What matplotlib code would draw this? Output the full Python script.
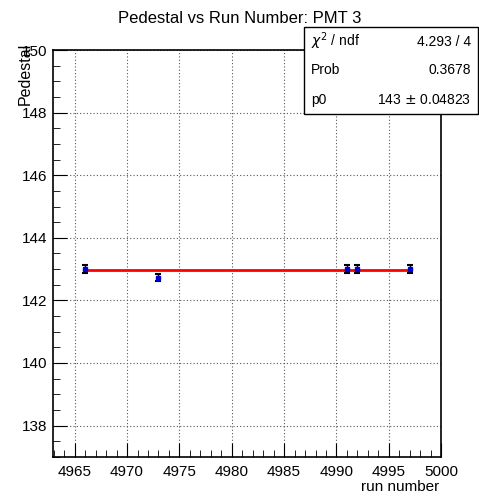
import matplotlib
matplotlib.use("Agg")
import matplotlib.pyplot as plt
from matplotlib.ticker import MultipleLocator

plt.rcParams['font.family'] = ['Liberation Sans', 'DejaVu Sans']

# data
runs = [4966, 4973, 4991, 4992, 4997]
pedestal = [143.0, 142.73, 143.0, 143.0, 143.0]
errors = [0.12, 0.12, 0.12, 0.12, 0.12]
fit_p0 = 142.96
fit_range = [4966, 4997]
stat_names = ["$\\chi^2$ / ndf", "Prob", "p0"]
stat_values = ["4.293 / 4", "0.3678", "143 $\\pm$ 0.04823"]

fig = plt.figure(figsize=(4.79, 4.96), dpi=100)
ax = fig.add_axes([0.110, 0.079, 0.811, 0.820])

ax.grid(True, color='#555555', linestyle=(0, (1, 2)), linewidth=0.8)
ax.set_axisbelow(True)

ax.errorbar(runs, pedestal, yerr=errors, fmt='s', color='black', ecolor='black',
            markerfacecolor='#0000cc', markeredgecolor='#0000cc', markersize=2.5,
            elinewidth=1, capsize=2.5, capthick=1.5, zorder=3)
ax.plot(fit_range, [fit_p0, fit_p0], color='red', linewidth=2, zorder=2)

ax.set_xlim(4962.9, 5000)
ax.set_ylim(137, 150)
ax.xaxis.set_major_locator(MultipleLocator(5))
ax.xaxis.set_minor_locator(MultipleLocator(1))
ax.yaxis.set_major_locator(MultipleLocator(2))
ax.yaxis.set_minor_locator(MultipleLocator(0.5))
ax.tick_params(which='both', direction='in', top=False, right=False, labelsize=11)
ax.tick_params(which='major', length=10)
ax.tick_params(which='minor', length=5)
ax.tick_params(axis='x', pad=6)
for s in ax.spines.values():
    s.set_linewidth(1.2)

fig.text(0.5, 0.963, "Pedestal vs Run Number: PMT 3", ha='center', va='center', fontsize=12)
fig.text(0.918, 0.018, "run number", ha='right', va='center', fontsize=11)
fig.text(0.052, 0.913, "Pedestal", ha='center', va='top', rotation=90, fontsize=11.5)

# stats box
bx0, by0, bw, bh = 304 / 479, 1 - 114 / 496, 174 / 479, 87 / 496
fig.patches.append(plt.Rectangle((bx0, by0), bw, bh, transform=fig.transFigure,
                                 facecolor='white', edgecolor='black', linewidth=1, zorder=5))
for i in range(len(stat_names)):
    yy = by0 + bh - (i + 0.5) * bh / 3
    fig.text(bx0 + 0.015, yy, stat_names[i], ha='left', va='center', fontsize=10, zorder=6)
    fig.text(bx0 + bw - 0.015, yy, stat_values[i], ha='right', va='center', fontsize=10, zorder=6)

fig.savefig("out.png", dpi=100)
